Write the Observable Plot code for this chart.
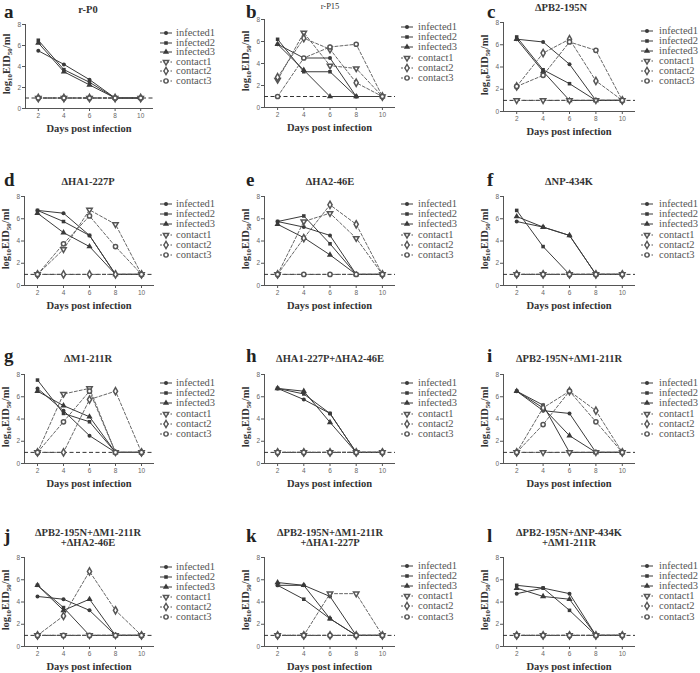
<!DOCTYPE html>
<html><head><meta charset="utf-8">
<script src="https://cdn.jsdelivr.net/npm/d3@7"></script>
<script src="https://cdn.jsdelivr.net/npm/@observablehq/plot@0.6"></script>
<style>
body{margin:0;background:#fff;}
#fig{position:relative;width:700px;height:673px;overflow:hidden;color:#333;}
.abs{position:absolute;white-space:nowrap;font-family:"Liberation Serif","DejaVu Serif","Times New Roman",serif;}
.plot{position:absolute;}
.letter{font-weight:bold;font-size:19px;color:#222;line-height:19px;}
.title{font-weight:bold;font-size:10.5px;color:#333;transform:translate(-50%,-50%);text-align:center;line-height:10px;}
.xlab{font-weight:bold;font-size:10.5px;color:#333;transform:translate(-50%,-50%);line-height:11px;}
.ylab{font-weight:bold;font-size:10.5px;color:#333;transform:translate(-50%,-50%) rotate(-90deg);line-height:11px;}
.ylab sub{font-size:7px;vertical-align:-2px;line-height:0;}
.leg{font-size:10.5px;color:#555;line-height:10px;transform:translateY(-50%);}
</style></head><body><div id="fig"></div>
<script>
// ---------- data ----------
const days = [2, 4, 6, 8, 10];
const seriesNames = ["infected1", "infected2", "infected3", "contact1", "contact2", "contact3"];
const panelLetters = ["a","b","c","d","e","f","g","h","i","j","k","l"];
const panelTitles = [
  ["r-P0"], ["r-P15"], ["ΔPB2-195N"],
  ["ΔHA1-227P"], ["ΔHA2-46E"], ["ΔNP-434K"],
  ["ΔM1-211R"], ["ΔHA1-227P+ΔHA2-46E"], ["ΔPB2-195N+ΔM1-211R"],
  ["ΔPB2-195N+ΔM1-211R", "+ΔHA2-46E"], ["ΔPB2-195N+ΔM1-211R", "+ΔHA1-227P"], ["ΔPB2-195N+ΔNP-434K", "+ΔM1-211R"]
];
const yTicks = [0, 2, 4, 6, 8];
const xTicks = [2, 4, 6, 8, 10];
const detectionLimit = 1;
const xLabel = "Days post infection";

// rows: infected1, infected2, infected3, contact1, contact2, contact3 (log10 EID50/ml at days 2..10)
const valuesA = [[5.5,4.2,2.75,1,1],[6.5,3.7,2.5,1,1],[6.25,3.5,2.25,1,1],[1,1,1,1,1],[1,1,1,1,1],[1,1,1,1,1]];
const valuesB = [[5.75,4.5,4.5,1,1],[6.2,3.25,3.25,1,1],[5.75,3.4,1,1,1],[2.5,6.8,3.8,3.55,1],[2.75,6.3,5.3,2.25,1],[1,4.5,5.5,5.75,1]];
const valuesC = [[6.5,6.25,4.25,1,1],[6.7,3.75,2.5,1,1],[6.5,3.6,1,1,1],[1,1,1,1,1],[2.25,5.25,6.5,2.75,1],[2.25,3.25,6.25,5.5,1]];
const valuesD = [[6.75,6.5,4.5,1,1],[6.75,5.75,4.5,1,1],[6.5,4.75,3.5,1,1],[1,3.25,6.8,5.5,1],[1,1,1,1,1],[1,3.75,6.25,3.5,1]];
const valuesE = [[5.75,5.25,4.5,1,1],[5.75,6.25,3.75,1,1],[5.5,4.3,2.75,1,1],[1,5.75,6.5,4.25,1],[1,4.25,7.25,5.5,1],[1,1,1,1,1]];
const valuesF = [[5.75,5.25,4.5,1,1],[6.75,3.5,1,1,1],[6.2,5.25,4.5,1,1],[1,1,1,1,1],[1,1,1,1,1],[1,1,1,1,1]];
const valuesG = [[6.75,4.75,2.5,1,1],[7.5,4.5,3.75,1,1],[6.5,5.2,4.2,1,1],[1,6.25,6.75,1,1],[1,1,5.75,6.5,1],[1,3.75,6.5,1,1]];
const valuesH = [[6.75,5.75,4.5,1,1],[6.75,6.25,4.5,1,1],[6.75,6.5,3.7,1,1],[1,1,1,1,1],[1,1,1,1,1],[1,1,1,1,1]];
const valuesI = [[6.5,4.75,4.5,1,1],[6.5,5.25,1,1,1],[6.5,5.0,2.5,1,1],[1,1,1,1,1],[1,5.0,6.5,4.75,1],[1,3.5,6.5,3.75,1]];
const valuesJ = [[4.5,4.25,3.25,1,1],[5.5,3.5,1,1,1],[5.5,3.25,4.25,1,1],[1,1,1,1,1],[1,2.75,6.75,3.25,1],[1,1,1,1,1]];
const valuesK = [[5.5,5.5,4.5,1,1],[5.5,4.25,2.5,1,1],[5.75,5.5,2.5,1,1],[1,1,4.75,4.75,1],[1,1,1,1,1],[1,1,1,1,1]];
const valuesL = [[4.75,5.25,4.75,1,1],[5.5,5.25,3.25,1,1],[5.25,4.5,4.25,1,1],[1,1,1,1,1],[1,1,1,1,1],[1,1,1,1,1]];
const panelValues = [valuesA,valuesB,valuesC,valuesD,valuesE,valuesF,valuesG,valuesH,valuesI,valuesJ,valuesK,valuesL];

// ---------- layout ----------
const colX = [[24,154],[264,395],[503,635]];          // px for x=1 and x=11
const rowY = [[22,109],[196,285],[374,463],[557,646]]; // px for y=8 and y=0
const frameOverride = {0:{x:[25,153], y:[24,108]}, 1:{y:[19,107]}, 2:{y:[22,111]}};
const letterX = [4, 246, 487];
const letterBase = [17.5, 185.5, 362, 542];
const titleX = [88, 330, 569];
const titleY = [[10,6,8],[182,182,182],[359,359,359],[533,533,533]];
const legMX = [166, 407, 647];
const legTX = [176, 418, 659];
const legY0 = [[33,27,31],[204,204,204],[383,383,383],[567,566,566]];
const legDY = [[9.6,10.2,10],[10.2,10.2,10.2],[10.2,10.2,10.2],[10,10.1,10.1]];

const invTriangle = {
  draw(context, size) {
    const s3 = Math.sqrt(3);
    const y = -Math.sqrt(size / (s3 * 3));
    context.moveTo(0, -y * 2);
    context.lineTo(-s3 * y, y);
    context.lineTo(s3 * y, y);
    context.closePath();
  }
};
const symbols = [d3.symbolCircle, d3.symbolSquare, d3.symbolTriangle, invTriangle, d3.symbolDiamond, d3.symbolCircle];
const symR = [2.0, 2.0, 2.3, 2.0, 2.2, 2.1];
const ink = "#3a3a3a";
const contactInk = "#555";

const fig = document.getElementById("fig");
function addDiv(cls, html, left, top) {
  const d = document.createElement("div");
  d.className = "abs " + cls;
  d.innerHTML = html;
  d.style.left = left + "px";
  d.style.top = top + "px";
  fig.appendChild(d);
  return d;
}

panelValues.forEach((vals, p) => {
  const col = p % 3, row = Math.floor(p / 3);
  const ov = frameOverride[p] || {};
  const [x1, x11] = ov.x || colX[col];
  const [y8, y0] = ov.y || rowY[row];
  const ml = 26, mr = 4, mt = 8, mb = 16;
  const width = (x11 - x1) + ml + mr;
  const height = (y0 - y8) + mt + mb;

  const rows = [];
  vals.forEach((arr, s) => arr.forEach((v, k) => rows.push({day: days[k], value: v, series: seriesNames[s], idx: s})));
  const infected = rows.filter(r => r.idx < 3);
  const contacts = rows.filter(r => r.idx >= 3);

  const dotMarks = seriesNames.map((name, s) => Plot.dot(rows.filter(r => r.idx === s), {
    x: "day", y: "value", symbol: symbols[s], r: symR[s],
    fill: s < 3 ? ink : "white", stroke: s < 3 ? "none" : contactInk, strokeWidth: s < 3 ? 0 : 1.5
  }));

  const chart = Plot.plot({
    width, height, marginLeft: ml, marginRight: mr, marginTop: mt, marginBottom: mb,
    x: {domain: [1, 11]},
    y: {domain: [0, 8]},
    style: {fontSize: "6.5px", fontFamily: "'Liberation Sans', Arial, sans-serif", color: "#666", background: "transparent", overflow: "visible"},
    marks: [
      Plot.axisX(xTicks, {tickSize: 3, tickPadding: 1.5, label: null, stroke: "#555"}),
      Plot.axisY(yTicks, {tickSize: 3, tickPadding: 1.5, label: null, stroke: "#555"}),
      Plot.ruleX([1], {y1: 0, y2: 8, stroke: "#555"}),
      Plot.ruleY([0], {stroke: "#555"}),
      Plot.ruleY([detectionLimit], {stroke: "#333", strokeWidth: 1, strokeDasharray: "4,2.5"}),
      Plot.line(infected, {x: "day", y: "value", z: "series", stroke: ink, strokeWidth: 1}),
      Plot.line(contacts, {x: "day", y: "value", z: "series", stroke: contactInk, strokeWidth: 0.9, strokeDasharray: "3,2"}),
      ...dotMarks
    ]
  });
  chart.classList.add("plot");
  chart.style.left = (x1 - ml) + "px";
  chart.style.top = (y8 - mt) + "px";
  fig.appendChild(chart);

  // letter (baseline ≈ top + 15.9 for 19px / line-height 19px)
  addDiv("letter", panelLetters[p], letterX[col], letterBase[row] - 15.9);
  // title
  const t = addDiv("title", panelTitles[p].join("<br>"), p === 2 ? 561 : titleX[col], panelTitles[p].length > 1 ? titleY[row][col] + 5 : titleY[row][col]);
  if (p === 1) { t.style.fontSize = "8.5px"; t.style.fontWeight = "normal"; }
  // axis labels
  addDiv("xlab", xLabel, (x1 + x11) / 2, y0 + 20);
  addDiv("ylab", "log<sub>10</sub>EID<sub>50</sub>/ml", x1 - 19, (y8 + y0) / 2 - 2);
  // legend
  seriesNames.forEach((name, s) => {
    const cy = legY0[row][col] + s * legDY[row][col];
    const path = d3.symbol(symbols[s], Math.PI * symR[s] * symR[s])();
    const svg = `<svg width="16" height="10" style="position:absolute;left:${legMX[col] - 8}px;top:${cy - 5}px;overflow:visible">
      <line x1="2" x2="14" y1="5" y2="5" stroke="${s < 3 ? ink : contactInk}" stroke-width="1" ${s < 3 ? "" : 'stroke-dasharray="2,1.5"'}/>
      <path transform="translate(8,5)" d="${path}" fill="${s < 3 ? ink : "white"}" stroke="${s < 3 ? "none" : contactInk}" stroke-width="1.4"/></svg>`;
    fig.insertAdjacentHTML("beforeend", svg);
    addDiv("leg", name, legTX[col], cy);
  });
});
</script></body></html>
